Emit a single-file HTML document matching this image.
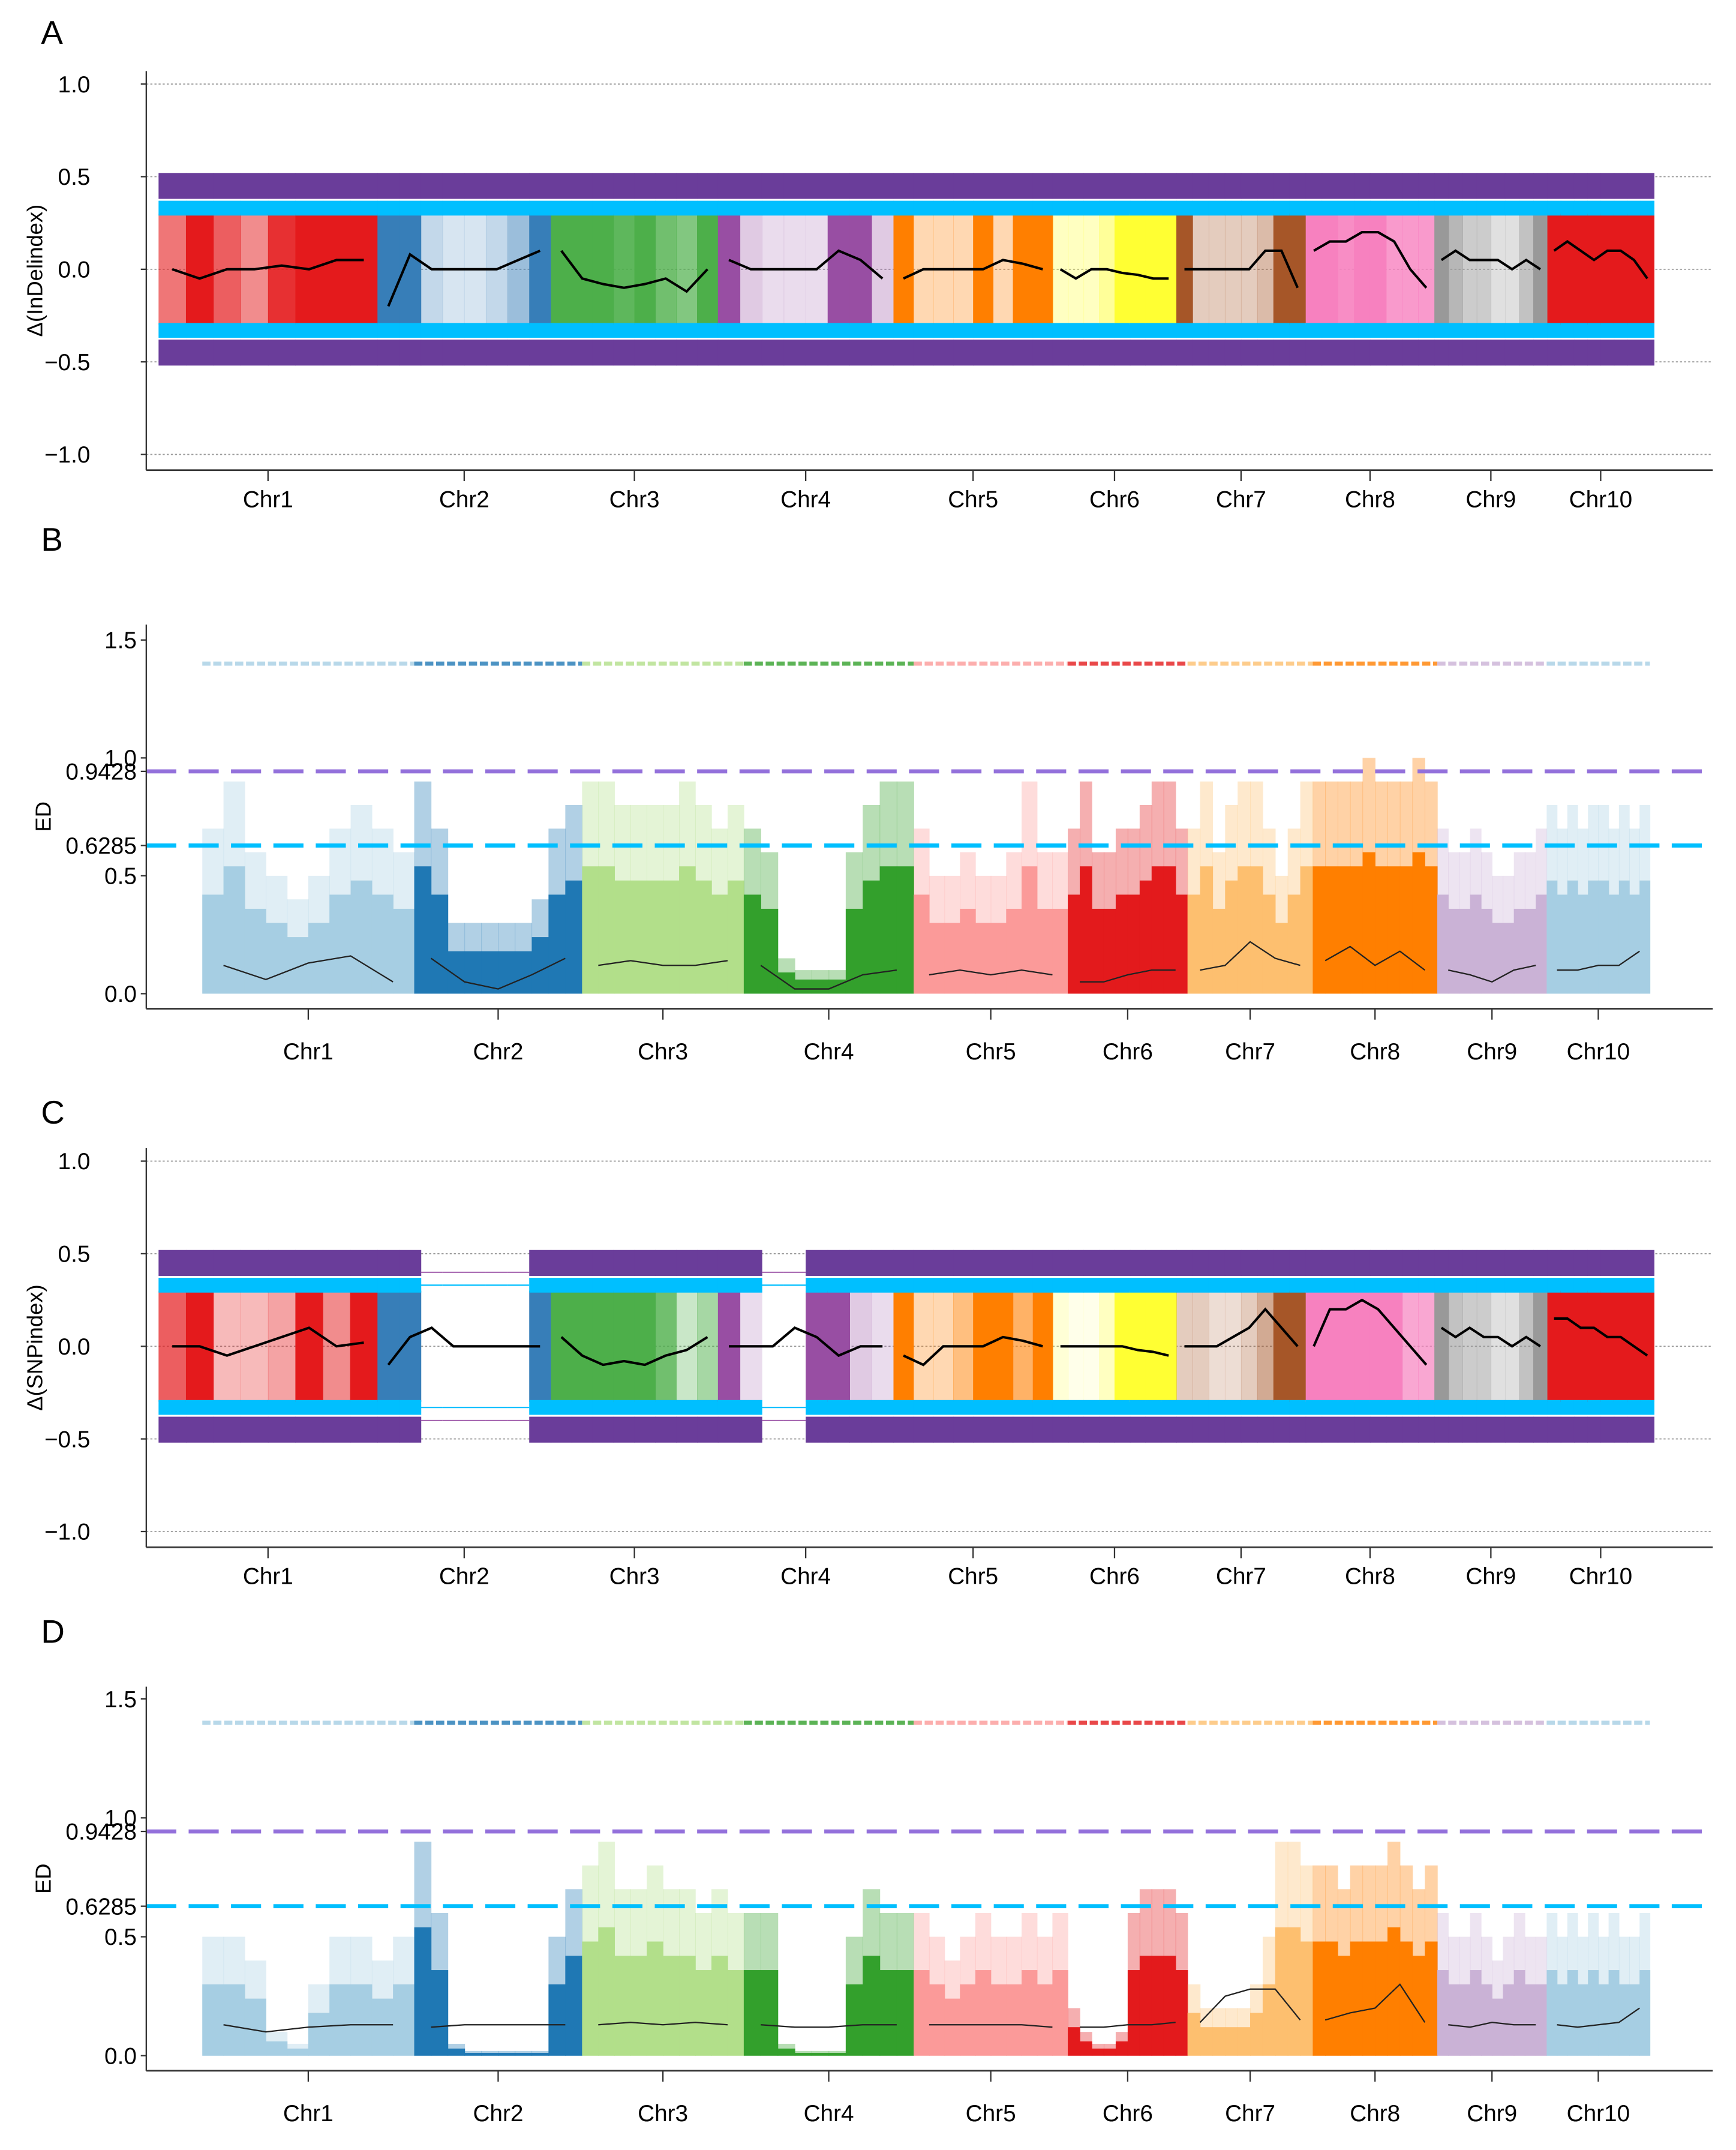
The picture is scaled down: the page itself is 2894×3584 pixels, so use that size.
<!DOCTYPE html>
<html><head><meta charset="utf-8"><style>
html,body{margin:0;padding:0;background:#fff}
svg{display:block}
text{font-family:"Liberation Sans",sans-serif}
</style></head><body>
<svg id="fig" xmlns="http://www.w3.org/2000/svg" width="2894" height="3584" viewBox="0 0 1270 1573" preserveAspectRatio="none">
<rect width="1270" height="1573" fill="#fff"/>
</svg>
<script>
const chrNames=["Chr1","Chr2","Chr3","Chr4","Chr5","Chr6","Chr7","Chr8","Chr9","Chr10"];
const chrLen=[308,244,235,247,224,174,182,181,159,150];
const colorsAC=["#e41a1c","#377eb8","#4daf4a","#984ea3","#ff7f00","#ffff33","#a65628","#f781bf","#999999","#e41a1c"];
const colorsBD=["#a6cee3","#1f78b4","#b2df8a","#33a02c","#fb9a99","#e31a1c","#fdbf6f","#ff7f00","#cab2d6","#a6cee3"];
const fillA=[[0.6,1,0.7,0.5,0.9,1,1,1],[1,1,0.3,0.2,0.2,0.3,0.5,1],[1,1,1,0.9,1,0.8,0.7,1],[1,0.3,0.2,0.2,0.2,1,1,0.3],[1,0.3,0.3,0.3,1,0.3,1,1],[0.3,0.3,0.3,0.5,1,1,1,1],[1,0.3,0.3,0.3,0.3,0.4,1,1],[1,1,0.9,1,1,0.8,0.8,0.8],[1,0.7,0.5,0.5,0.3,0.3,0.6,1],[1,1,1,1,1,1,1,1]];
const lineA=[[0,-0.05,0,0,0.02,0,0.05,0.05],[-0.2,0.08,0,0,0,0,0.05,0.1],[0.1,-0.05,-0.08,-0.1,-0.08,-0.05,-0.12,0],[0.05,0,0,0,0,0.1,0.05,-0.05],[-0.05,0,0,0,0,0.05,0.03,0],[0,-0.05,0,0,-0.02,-0.03,-0.05,-0.05],[0,0,0,0,0,0.1,0.1,-0.1],[0.1,0.15,0.15,0.2,0.2,0.15,0,-0.1],[0.05,0.1,0.05,0.05,0.05,0,0.05,0],[0.1,0.15,0.1,0.05,0.1,0.1,0.05,-0.05]];
const fillC=[[0.7,1,0.3,0.3,0.4,1,0.5,1],[1,1,0,0,0,0,0,1],[1,1,1,1,1,0.8,0.3,0.5],[1,0.2,0,0,1,1,0.3,0.2],[1,0.3,0.3,0.5,1,1,0.6,1],[0.2,0.1,0.1,0.3,1,1,1,1],[0.3,0.3,0.2,0.2,0.3,0.5,1,1],[1,1,1,1,1,1,0.7,0.7],[1,0.6,0.5,0.5,0.3,0.3,0.6,1],[1,1,1,1,1,1,1,1]];
const bandC=[[1,1,1,1,1,1,1,1],[1,1,0,0,0,0,0,1],[1,1,1,1,1,1,1,1],[1,1,0,0,1,1,1,1],[1,1,1,1,1,1,1,1],[1,1,1,1,1,1,1,1],[1,1,1,1,1,1,1,1],[1,1,1,1,1,1,1,1],[1,1,1,1,1,1,1,1],[1,1,1,1,1,1,1,1]];
const lineC=[[0,0,-0.05,0,0.05,0.1,0,0.02],[-0.1,0.05,0.1,0,0,0,0,0],[0.05,-0.05,-0.1,-0.08,-0.1,-0.05,-0.02,0.05],[0,0,0,0.1,0.05,-0.05,0,0],[-0.05,-0.1,0,0,0,0.05,0.03,0],[0,0,0,0,0,-0.02,-0.03,-0.05],[0,0,0,0.05,0.1,0.2,0.1,0],[0,0.2,0.2,0.25,0.2,0.1,0,-0.1],[0.1,0.05,0.1,0.05,0.05,0,0.05,0],[0.15,0.15,0.1,0.1,0.05,0.05,0,-0.05]];
const heightB=[[0.7,0.9,0.6,0.5,0.4,0.5,0.7,0.8,0.7,0.6],[0.9,0.7,0.3,0.3,0.3,0.3,0.3,0.4,0.7,0.8],[0.9,0.9,0.8,0.8,0.8,0.8,0.9,0.8,0.7,0.8],[0.7,0.6,0.15,0.1,0.1,0.1,0.6,0.8,0.9,0.9],[0.7,0.5,0.5,0.6,0.5,0.5,0.6,0.9,0.6,0.6],[0.7,0.9,0.6,0.6,0.7,0.7,0.8,0.9,0.9,0.7],[0.7,0.9,0.6,0.8,0.9,0.9,0.7,0.5,0.7,0.9],[0.9,0.9,0.9,0.9,1.0,0.9,0.9,0.9,1.0,0.9],[0.7,0.6,0.6,0.7,0.6,0.5,0.5,0.6,0.6,0.7],[0.8,0.7,0.8,0.7,0.8,0.8,0.7,0.8,0.7,0.8]];
const lineB=[[0.12,0.06,0.13,0.16,0.05],[0.15,0.05,0.02,0.08,0.15],[0.12,0.14,0.12,0.12,0.14],[0.12,0.02,0.02,0.08,0.1],[0.08,0.1,0.08,0.1,0.08],[0.05,0.05,0.08,0.1,0.1],[0.1,0.12,0.22,0.15,0.12],[0.14,0.2,0.12,0.18,0.1],[0.1,0.08,0.05,0.1,0.12],[0.1,0.1,0.12,0.12,0.18]];
const heightD=[[0.5,0.5,0.4,0.1,0.05,0.3,0.5,0.5,0.4,0.5],[0.9,0.6,0.05,0.02,0.02,0.02,0.02,0.02,0.5,0.7],[0.8,0.9,0.7,0.7,0.8,0.7,0.7,0.6,0.7,0.6],[0.6,0.6,0.05,0.02,0.02,0.02,0.5,0.7,0.6,0.6],[0.6,0.5,0.4,0.5,0.6,0.5,0.5,0.6,0.5,0.6],[0.2,0.1,0.05,0.05,0.1,0.6,0.7,0.7,0.7,0.6],[0.3,0.2,0.2,0.2,0.2,0.3,0.5,0.9,0.9,0.8],[0.8,0.8,0.7,0.8,0.8,0.8,0.9,0.8,0.7,0.8],[0.6,0.5,0.5,0.6,0.5,0.4,0.5,0.6,0.5,0.5],[0.6,0.5,0.6,0.5,0.6,0.5,0.6,0.5,0.5,0.6]];
const lineD=[[0.13,0.1,0.12,0.13,0.13],[0.12,0.13,0.13,0.13,0.13],[0.13,0.14,0.13,0.14,0.13],[0.13,0.12,0.12,0.13,0.13],[0.13,0.13,0.13,0.13,0.12],[0.12,0.12,0.13,0.13,0.14],[0.14,0.25,0.28,0.28,0.15],[0.15,0.18,0.2,0.3,0.14],[0.13,0.12,0.14,0.13,0.13],[0.13,0.12,0.13,0.14,0.2]];
const ticksAC=[1.0,0.5,0.0,-0.5,-1.0];
const tickLabelsAC=["1.0","0.5","0.0","\u22120.5","\u22121.0"];
const ticksBD=[1.5,1.0,0.9428,0.6285,0.5,0.0];
const tickLabelsBD=["1.5","1.0","0.9428","0.6285","0.5","0.0"];
const thrHigh=0.9428, thrLow=0.6285;

const NS="http://www.w3.org/2000/svg";
const svg=document.getElementById('fig');
function mk(tag,attrs,parent){const e=document.createElementNS(NS,tag);for(const k in attrs)e.setAttribute(k,attrs[k]);(parent||svg).appendChild(e);return e;}
const total=chrLen.reduce((a,b)=>a+b,0);
const cumStart=[];let acc=0;for(const l of chrLen){cumStart.push(acc);acc+=l;}
function xScale(x0,x1){return p=>x0+(x1-x0)*p/total;}

function frame(g,top,bottom,yFn,ticks,labels,xs,labelY,title,letter,letterY,labelEnd,titleX){
  const l=mk('text',{x:30,y:letterY,'font-size':24},g);l.textContent=letter;
  
  
  mk('line',{x1:107,y1:top,x2:107,y2:bottom,stroke:'#333','stroke-width':1},g);
  mk('line',{x1:107,y1:bottom,x2:1253,y2:bottom,stroke:'#333','stroke-width':1.2},g);
  ticks.forEach((t,i)=>{
    const y=yFn(t);
    mk('line',{x1:103,y1:y,x2:107,y2:y,stroke:'#333'},g);
    const tx=mk('text',{x:labelEnd,y:y+6,'font-size':17,'text-anchor':'end'},g);tx.textContent=labels[i];
    
    
  });
  chrNames.forEach((n,i)=>{
    const cx=xs(cumStart[i]+chrLen[i]/2);
    mk('line',{x1:cx,y1:bottom,x2:cx,y2:bottom+8,stroke:'#333'},g);
    const t=mk('text',{x:cx,y:labelY,'font-size':17,'text-anchor':'middle'},g);t.textContent=n;
    
    
  });
  const yt=mk('text',{x:0,y:0,'font-size':16,'text-anchor':'middle',transform:`translate(${titleX},${(top+bottom)/2}) rotate(-90)`},g);yt.textContent=title;
  
  
}

function panelAC(letter,letterY,zeroY,fill,band,line,title){
  const g=mk('g',{});
  
  
  const yFn=v=>zeroY-v*135.5;
  const xs=xScale(116,1210);
  [1,0.5,0,-0.5,-1].forEach(v=>mk('line',{x1:107,y1:yFn(v),x2:1253,y2:yFn(v),stroke:'#999','stroke-width':0.8,'stroke-dasharray':'1.5 1.5'},g));
  chrNames.forEach((n,i)=>{
    const n8=fill[i].length,w=chrLen[i]/n8;
    fill[i].forEach((f,j)=>{
      const xa=xs(cumStart[i]+j*w),xb=xs(cumStart[i]+(j+1)*w);
      if(f>0){const r=mk('rect',{x:xa,y:yFn(0.3),width:xb-xa+0.3,height:yFn(-0.3)-yFn(0.3),fill:colorsAC[i],'fill-opacity':f},g);
      
      }
      const b=band?band[i][j]:1;
      if(b){
        mk('rect',{x:xa,y:yFn(0.52),width:xb-xa+0.3,height:yFn(0.38)-yFn(0.52),fill:'#6a3d9a'},g);
        mk('rect',{x:xa,y:yFn(-0.38),width:xb-xa+0.3,height:yFn(-0.52)-yFn(-0.38),fill:'#6a3d9a'},g);
        mk('rect',{x:xa,y:yFn(0.37),width:xb-xa+0.3,height:yFn(0.29)-yFn(0.37),fill:'#00bfff'},g);
        mk('rect',{x:xa,y:yFn(-0.29),width:xb-xa+0.3,height:yFn(-0.37)-yFn(-0.29),fill:'#00bfff'},g);
      } else {
        mk('line',{x1:xa,y1:yFn(0.33),x2:xb,y2:yFn(0.33),stroke:'#00bfff','stroke-width':1},g);
        mk('line',{x1:xa,y1:yFn(-0.33),x2:xb,y2:yFn(-0.33),stroke:'#00bfff','stroke-width':1},g);
        mk('line',{x1:xa,y1:yFn(0.4),x2:xb,y2:yFn(0.4),stroke:'#984ea3','stroke-width':0.8},g);
        mk('line',{x1:xa,y1:yFn(-0.4),x2:xb,y2:yFn(-0.4),stroke:'#984ea3','stroke-width':0.8},g);
      }
    });
    const pts=line[i].map((v,j)=>[xs(cumStart[i]+chrLen[i]*(j+0.5)/line[i].length),yFn(v)]);
    const pl=mk('polyline',{points:pts.map(p=>p.join(',')).join(' '),fill:'none',stroke:'#000','stroke-width':1.8},g);
    
    
  });
  frame(g,zeroY-145,zeroY+147,yFn,ticksAC,tickLabelsAC,xs,zeroY+174,title,letter,letterY,66,31);
}

function panelBD(letter,letterY,zeroY,scale,heights,line){
  const g=mk('g',{});
  
  
  const yFn=v=>zeroY-v*scale;
  const xs=xScale(148,1207);
  chrNames.forEach((n,i)=>{
    const k=heights[i].length,w=chrLen[i]/k;
    const xa0=xs(cumStart[i]),xb0=xs(cumStart[i]+chrLen[i]);
    mk('line',{x1:xa0,y1:yFn(1.4),x2:xb0,y2:yFn(1.4),stroke:colorsBD[i],'stroke-width':3,'stroke-dasharray':'6 2','stroke-opacity':0.8},g);
    heights[i].forEach((h,j)=>{
      const xa=xs(cumStart[i]+j*w),xb=xs(cumStart[i]+(j+1)*w);
      mk('rect',{x:xa,y:yFn(h),width:xb-xa+0.3,height:yFn(0)-yFn(h),fill:colorsBD[i],'fill-opacity':0.35},g);
      const r=mk('rect',{x:xa,y:yFn(h*0.6),width:xb-xa+0.3,height:yFn(0)-yFn(h*0.6),fill:colorsBD[i]},g);
      
      
    });
    const pts=line[i].map((v,j)=>[xs(cumStart[i]+chrLen[i]*(j+0.5)/line[i].length),yFn(v)]);
    const pl=mk('polyline',{points:pts.map(p=>p.join(',')).join(' '),fill:'none',stroke:'#222','stroke-width':1},g);
    
    
  });
  const l1=mk('line',{x1:107,y1:yFn(thrHigh),x2:1250,y2:yFn(thrHigh),stroke:'#9370db','stroke-width':3,'stroke-dasharray':'22 9'},g);
  
  
  const l2=mk('line',{x1:107,y1:yFn(thrLow),x2:1250,y2:yFn(thrLow),stroke:'#00bfff','stroke-width':3,'stroke-dasharray':'22 9'},g);
  
  
  frame(g,zeroY-270,zeroY+11,yFn,ticksBD,tickLabelsBD,xs,zeroY+48,'ED',letter,letterY,100,37);
}

panelAC('A',32,197,fillA,null,lineA,'\u0394(InDelindex)');
panelBD('B',403,727,172.5,heightB,lineB);
panelAC('C',822,985,fillC,bandC,lineC,'\u0394(SNPindex)');
panelBD('D',1202,1504,174,heightD,lineD);
</script>
</body></html>
